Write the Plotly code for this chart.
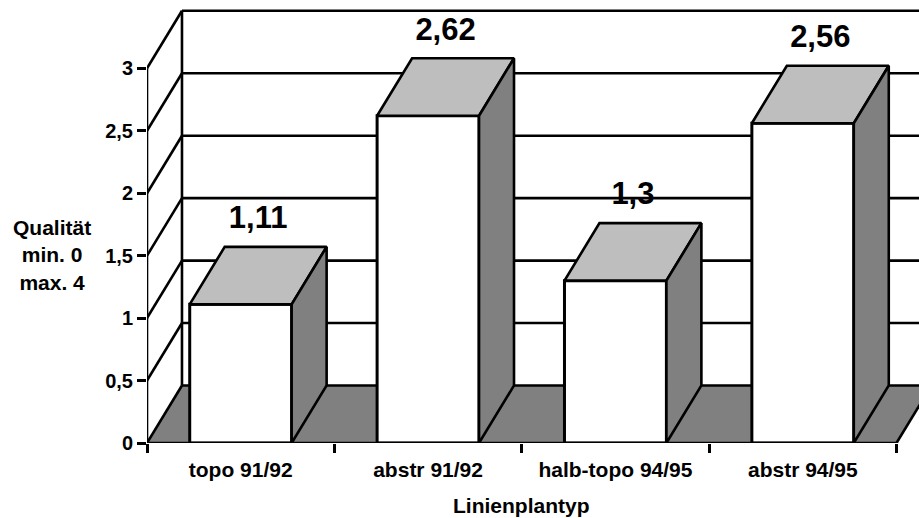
import plotly.graph_objects as go

categories = ["topo 91/92", "abstr 91/92", "halb-topo 94/95", "abstr 94/95"]
values = [1.11, 2.62, 1.3, 2.56]
value_labels = ["1,11", "2,62", "1,3", "2,56"]
y_ticks = [0, 0.5, 1, 1.5, 2, 2.5, 3]
y_tick_labels = ["0", "0,5", "1", "1,5", "2", "2,5", "3"]
x_title = "Linienplantyp"
y_title = "Qualität<br>min. 0<br>max. 4"

W, H = 919, 518
L, B = 146.5, 75
PX_X = 187.5          # pixels per category
PX_Y = 124.9          # pixels per value unit
DX = 35 / PX_X        # depth offset of the pseudo-3D walls, in axis units
DY = 57.5 / PX_Y
BAR_W = 102 / PX_X
LABEL_GAP = 26.5 / PX_Y
N = len(categories)
x_pos = [i + 0.5 for i in range(N)]
x_max = (W - L) / PX_X
y_max = (H - B) / PX_Y

FONT = "Liberation Sans, Arial, sans-serif"
BLACK = "#000000"
DARK = "#808080"
LIGHT = "#BEBEBE"
LW = 2.6

shapes = [dict(type="path", layer="below", xref="x", yref="y",
               path=f"M0,0 L{N},0 L{N + DX},{DY} L{DX},{DY} Z",
               fillcolor=DARK, line=dict(color=DARK, width=0))]
for v in y_ticks:
    shapes.append(dict(type="line", layer="below", xref="x", yref="y",
                       x0=DX, x1=N + DX + 1, y0=v + DY, y1=v + DY,
                       line=dict(color=BLACK, width=LW)))
shapes.append(dict(type="line", layer="below", xref="x", yref="y",
                   x0=N, x1=N + DX, y0=0, y1=DY, line=dict(color=BLACK, width=LW)))

fig = go.Figure()

# front faces
fig.add_trace(go.Bar(x=x_pos, y=values, width=BAR_W, showlegend=False, hoverinfo="skip",
                     marker=dict(color="#FFFFFF", line=dict(color=BLACK, width=LW + 0.4))))

# top and side faces of each bar
for xc, v in zip(x_pos, values):
    x0, x1 = xc - BAR_W / 2, xc + BAR_W / 2
    fig.add_trace(go.Scatter(x=[x0, x1, x1 + DX, x0 + DX, x0], y=[v, v, v + DY, v + DY, v],
                             mode="lines", fill="toself", fillcolor=LIGHT, showlegend=False,
                             hoverinfo="skip", line=dict(color=BLACK, width=LW)))
    fig.add_trace(go.Scatter(x=[x1, x1 + DX, x1 + DX, x1, x1], y=[0, DY, v + DY, v, 0],
                             mode="lines", fill="toself", fillcolor=DARK, showlegend=False,
                             hoverinfo="skip", line=dict(color=BLACK, width=LW)))

# left wall, front axis line and back-wall edge
wall_x, wall_y = [0, 0, None, DX, DX, None, 0, N], [0, y_ticks[-1], None, DY, y_ticks[-1] + DY, None, 0, 0]
for v in y_ticks:
    wall_x += [None, 0, DX]
    wall_y += [None, v, v + DY]
fig.add_trace(go.Scatter(x=wall_x, y=wall_y, mode="lines", cliponaxis=False, showlegend=False,
                         hoverinfo="skip", line=dict(color=BLACK, width=LW)))

# value labels
fig.add_trace(go.Scatter(x=[xc + DX / 2 for xc in x_pos], y=[v + DY + LABEL_GAP for v in values],
                         mode="text", text=value_labels, textposition="middle center", cliponaxis=False,
                         showlegend=False, hoverinfo="skip",
                         textfont=dict(family=FONT, size=31, color=BLACK, weight="bold")))

fig.update_layout(
    width=W, height=H, autosize=False, margin=dict(l=L, r=0, t=0, b=B, pad=0),
    paper_bgcolor="#FFFFFF", plot_bgcolor="#FFFFFF", showlegend=False, shapes=shapes,
    font=dict(family=FONT, size=20, color=BLACK, weight="bold"),
    xaxis=dict(range=[0, x_max], tickmode="array", tickvals=x_pos, ticktext=categories, ticks="", showgrid=False,
               zeroline=False, showline=False, ticklabelstandoff=12,
               tickfont=dict(family=FONT, size=21, color=BLACK, weight="bold"),
               minor=dict(tickmode="array", tickvals=list(range(N + 1)), ticks="outside", ticklen=9,
                          tickwidth=LW, tickcolor=BLACK, showgrid=False)),
    yaxis=dict(range=[0, y_max], tickmode="array", tickvals=y_ticks, ticktext=y_tick_labels, ticks="outside",
               ticklen=9, tickwidth=LW, tickcolor=BLACK, showgrid=False, zeroline=False, showline=False,
               tickfont=dict(family=FONT, size=20, color=BLACK, weight="bold")),
    annotations=[
        dict(text=x_title, xref="x", yref="paper", x=N / 2, y=-(505.5 - 443) / (H - B), yanchor="middle",
             showarrow=False, font=dict(family=FONT, size=21, color=BLACK, weight="bold")),
        dict(text=y_title, xref="paper", yref="y", x=-(146.5 - 51.5) / (W - L), y=(443 - 255) / PX_Y,
             xanchor="center", yanchor="middle", showarrow=False, align="center",
             font=dict(family=FONT, size=21, color=BLACK, weight="bold")),
    ],
)
fig.write_html("out.html", config={"displayModeBar": False},
               post_script="document.body.style.margin='0';document.body.style.overflow='hidden';")
